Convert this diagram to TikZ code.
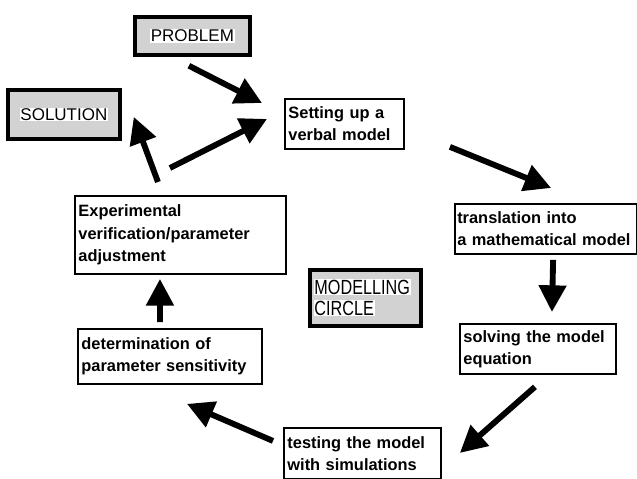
\documentclass[tikz,border=0pt]{standalone}
\usepackage{fontspec}
\setmainfont{Liberation Sans}
\newfontfamily\narrowfont{Liberation Sans}[FakeStretch=0.79]
\usepackage{tikz}
\usetikzlibrary{arrows.meta,calc}
\hyphenpenalty=10000
\newcommand{\onwhite}[1]{{\setlength{\fboxsep}{0.6pt}\colorbox{white}{#1}}}

\begin{document}
\begin{tikzpicture}[x=0.03cm,y=-0.03cm,
    textbox/.style={rectangle,draw,line width=1.6pt,anchor=north west,align=left,inner sep=3pt,
        font=\bfseries\fontsize{14}{19}\selectfont},
    shadebox/.style={rectangle,draw,line width=3.2pt,fill=gray!35,anchor=north west,
        font=\fontsize{14.5}{16}\selectfont},
    flow/.style={line width=5pt,-{Triangle[length=0.8cm,width=0.8cm]}}]
    \useasboundingbox (0,0) rectangle (637,479);

    \node[shadebox,minimum width=3.45cm,minimum height=1.14cm] (P) at (133,15) {\onwhite{PROBLEM}};
    \node[shadebox,minimum width=3.36cm,minimum height=1.47cm] (S) at (6,88) {\onwhite{SOLUTION}};

    \node[textbox,text width=3.36cm,minimum height=1.5cm] (A) at (284,98) {Setting up a\\verbal model};
    \node[textbox,inner xsep=2pt,text width=5.33cm,minimum height=1.5cm] (B) at (454,203) {translation into\\a mathematical model};
    \node[textbox,text width=4.47cm,minimum height=1.5cm] (C) at (459,323) {solving the model\\equation};
    \node[textbox,text width=4.5cm,minimum height=1.53cm] (D) at (283,427) {testing the model\\with simulations};
    \node[textbox,text width=5.31cm,minimum height=1.65cm] (E) at (77,328) {determination of\\parameter sensitivity};
    \node[textbox,text width=6.12cm,minimum height=2.34cm] (F) at (74,195) {Experimental\\verification/parameter\\adjustment};

    \node[shadebox,align=left,text width=3.1cm,minimum height=1.68cm,
        font=\narrowfont\fontsize{17.5}{18}\selectfont] (M) at (308,268) {\onwhite{MODELLING}\\\onwhite{CIRCLE}};

    \draw[flow] ($(P.south)+(-3.5,9)$) -- ($(A.north west)+(-22,5)$);
    \draw[flow] ($(F.north)+(-10.5,-27)$) -- ($(A.west)+(-17,-5)$);
    \draw[flow] ($(F.north)+(-22.5,-13)$) -- ($(S.east)+(12,2.5)$);
    \draw[flow] ($(A.south east)+(45,-3)$) -- ($(B.north)+(5,-15)$);
    \draw[flow] ($(B.south)+(7,5)$) -- ($(C.north)+(14,-11)$);
    \draw[flow] ($(C.south)+(-3,12)$) -- ($(D.east)+(18,-0.5)$);
    \draw[flow] ($(D.west)+(-10,-12.5)$) -- ($(E.south)+(17,19)$);
    \draw[flow] ($(E.north)+(-10,-6)$) -- ($(F.south)+(-20.5,4)$);
\end{tikzpicture}
\end{document}
